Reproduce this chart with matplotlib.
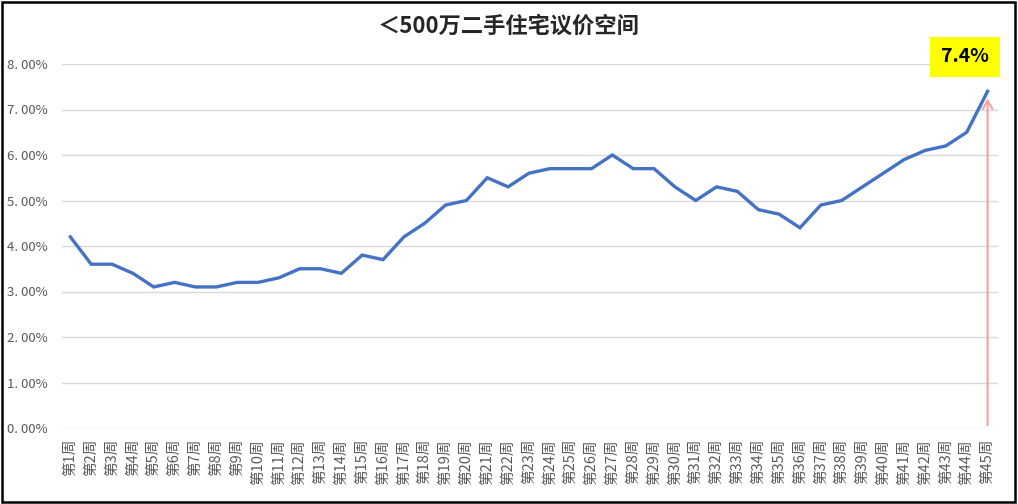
import matplotlib.pyplot as plt
import numpy as np

plt.rcParams['font.family'] = ['Noto Sans CJK SC', 'DejaVu Sans']

# weekly bargaining space (%) for <5M second-hand homes
weeks = [f"第{i}周" for i in range(1, 46)]
space = [4.2, 3.6, 3.6, 3.4, 3.1, 3.2, 3.1, 3.1, 3.2, 3.2,
         3.3, 3.5, 3.5, 3.4, 3.8, 3.7, 4.2, 4.5, 4.9, 5.0,
         5.5, 5.3, 5.6, 5.7, 5.7, 5.7, 6.0, 5.7, 5.7, 5.3,
         5.0, 5.3, 5.2, 4.8, 4.7, 4.4, 4.9, 5.0, 5.3, 5.6,
         5.9, 6.1, 6.2, 6.5, 7.4]
y_ticks = [0, 1, 2, 3, 4, 5, 6, 7, 8]
title = "＜500万二手住宅议价空间"
callout = "7.4%"

fig = plt.figure(figsize=(10.18, 5.04), dpi=100)
ax = fig.add_axes([62 / 1018, 1 - 428 / 504, 936 / 1018, (428 - 64) / 504])

x = np.arange(1, len(space) + 1)
ax.plot(x, space, color="#4472C4", linewidth=2.4, solid_joinstyle="miter")

ax.set_xlim(0.6, 45.5)
ax.set_ylim(0, 8)
ax.set_yticks(y_ticks)
ax.set_yticklabels([f"{v:.2f}%".replace(".", ". ") for v in y_ticks],
                   color="#595959", fontsize=9.5)
ax.set_xticks(x)
ax.set_xticklabels(weeks, rotation=90, color="#595959", fontsize=10.5, va="top")
ax.tick_params(axis="both", length=0)
ax.tick_params(axis="y", pad=10)
ax.tick_params(axis="x", pad=8)
ax.grid(axis="y", color="#D9D9D9", linewidth=1)
ax.set_axisbelow(True)
for s in ax.spines.values():
    s.set_visible(False)

# pink arrow from the axis up to the last point
ax.annotate("", xy=(x[-1], space[-1] - 0.1), xytext=(x[-1], 0),
            arrowprops=dict(arrowstyle="->,head_length=0.6,head_width=0.35",
                            color="#F4A0A0", lw=1.5))

fig.text(0.5, 1 - 26 / 504, title, ha="center", va="center",
         fontsize=16, fontweight="bold", color="#262626")
fig.text(965 / 1018, 1 - 57 / 504, callout, ha="center", va="center",
         fontsize=14, fontweight="bold", color="black",
         bbox=dict(boxstyle="square,pad=0.55", facecolor="#FFFF00", edgecolor="none"))

# outer black frame
fig.patches.append(plt.Rectangle((0.002, 0.003), 0.995, 0.994, transform=fig.transFigure,
                                 fill=False, edgecolor="black", linewidth=1.8))

fig.savefig("out.png", dpi=100)
